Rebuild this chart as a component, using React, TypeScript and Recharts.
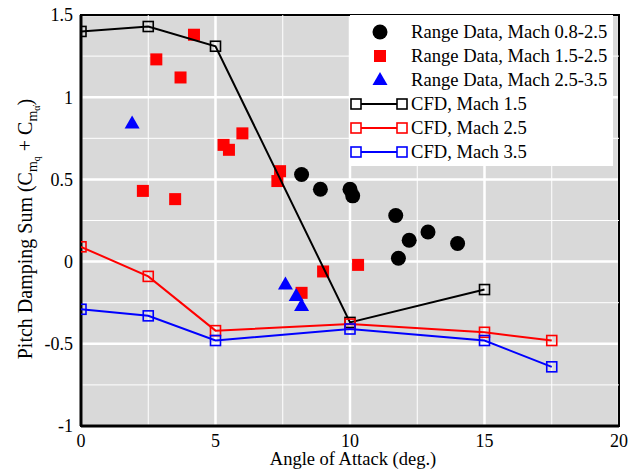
import { ComposedChart, Scatter, XAxis, YAxis, CartesianGrid, ReferenceLine, ReferenceArea, Legend } from 'recharts';

const FONT = '"Liberation Serif", "Times New Roman", serif';

// range data, Mach 0.8-2.5
const rangeLowAoa = [8.2, 8.9, 10.0, 10.1, 11.7, 11.8, 12.2, 12.9, 14.0];
const rangeLowPds = [0.53, 0.44, 0.44, 0.4, 0.28, 0.02, 0.13, 0.18, 0.11];
// range data, Mach 1.5-2.5
const rangeMidAoa = [4.2, 2.8, 3.7, 6.0, 5.3, 5.5, 7.4, 7.3, 2.3, 3.5, 8.2, 9.0, 10.3];
const rangeMidPds = [1.38, 1.23, 1.12, 0.78, 0.71, 0.68, 0.55, 0.49, 0.43, 0.38, -0.19, -0.06, -0.02];
// range data, Mach 2.5-3.5
const rangeHighAoa = [1.9, 7.6, 8.0, 8.2];
const rangeHighPds = [0.84, -0.14, -0.21, -0.27];

const cfd15Aoa = [0, 2.5, 5, 10, 15];
const cfd15Pds = [1.4, 1.43, 1.31, -0.37, -0.17];
const cfd25Aoa = [0, 2.5, 5, 10, 15, 17.5];
const cfd25Pds = [0.09, -0.09, -0.42, -0.38, -0.43, -0.48];
const cfd35Aoa = [0, 2.5, 5, 10, 15, 17.5];
const cfd35Pds = [-0.29, -0.33, -0.48, -0.41, -0.48, -0.64];

const xTicks = [0, 5, 10, 15, 20];
const yTicks = [-1, -0.5, 0, 0.5, 1, 1.5];
const xMinor = [2.5, 7.5, 12.5, 17.5];
const yMinor = [-0.75, -0.25, 0.25, 0.75, 1.25];

const pts = (xs: number[], ys: number[]) => xs.map((x, i) => ({ x, y: ys[i] }));

const Dot = (p: any) => <circle cx={p.cx} cy={p.cy} r={7.5} fill="#000" />;
const Sq = (p: any) => <rect x={p.cx - 6} y={p.cy - 6} width={12} height={12} fill="#f00" />;
const Tri = (p: any) => (
  <polygon points={`${p.cx},${p.cy - 8} ${p.cx - 7.5},${p.cy + 5} ${p.cx + 7.5},${p.cy + 5}`} fill="#00f" />
);
const hollow = (color: string) => (p: any) => (
  <rect x={p.cx - 5} y={p.cy - 5} width={10} height={10} fill="none" stroke={color} strokeWidth={1.6} />
);

const legendRows = [
  { kind: 'dot', color: '#000', label: 'Range Data, Mach 0.8-2.5' },
  { kind: 'sq', color: '#f00', label: 'Range Data, Mach 1.5-2.5' },
  { kind: 'tri', color: '#00f', label: 'Range Data, Mach 2.5-3.5' },
  { kind: 'line', color: '#000', label: 'CFD, Mach 1.5' },
  { kind: 'line', color: '#f00', label: 'CFD, Mach 2.5' },
  { kind: 'line', color: '#00f', label: 'CFD, Mach 3.5' },
];

function LegendBox() {
  return (
    <div style={{ background: '#fff', width: 263, height: 151, paddingTop: 5, boxSizing: 'border-box', fontFamily: FONT, fontSize: 18.6 }}>
      {legendRows.map((r, i) => (
        <div key={i} style={{ display: 'flex', alignItems: 'center', height: 24 }}>
          <svg width={61} height={24}>
            {r.kind === 'dot' && <circle cx={30} cy={12} r={7.5} fill={r.color} />}
            {r.kind === 'sq' && <rect x={24} y={6} width={12} height={12} fill={r.color} />}
            {r.kind === 'tri' && <polygon points="30,4 22.5,17 37.5,17" fill={r.color} />}
            {r.kind === 'line' && (
              <g>
                <line x1={5} y1={12} x2={53} y2={12} stroke={r.color} strokeWidth={2} />
                <rect x={1} y={7} width={10} height={10} fill="#fff" stroke={r.color} strokeWidth={1.6} />
                <rect x={47} y={7} width={10} height={10} fill="#fff" stroke={r.color} strokeWidth={1.6} />
              </g>
            )}
          </svg>
          <span style={{ whiteSpace: 'nowrap', lineHeight: '24px' }}>{r.label}</span>
        </div>
      ))}
    </div>
  );
}

export default function App() {
  const tickStyle = { fontFamily: FONT, fontSize: 18, fill: '#000' };
  return (
    <div style={{ position: 'absolute', left: 0, top: 0, width: 635, height: 474, background: '#fff' }}>
      <ComposedChart width={635} height={474} margin={{ top: 15, right: 16, bottom: 0, left: 0 }}>
        <CartesianGrid fill="#d9d9d9" stroke="#fff" strokeWidth={2.5} />
        {xMinor.map((v) => (
          <ReferenceLine key={'x' + v} x={v} stroke="#fff" strokeWidth={1} />
        ))}
        {yMinor.map((v) => (
          <ReferenceLine key={'y' + v} y={v} stroke="#fff" strokeWidth={1} />
        ))}
        <XAxis
          type="number"
          dataKey="x"
          domain={[0, 20]}
          ticks={xTicks}
          tickLine={false}
          tick={tickStyle}
          axisLine={{ stroke: '#000', strokeWidth: 3 }}
          height={48}
          allowDataOverflow
        />
        <YAxis
          type="number"
          dataKey="y"
          domain={[-1, 1.5]}
          ticks={yTicks}
          tickLine={false}
          tick={tickStyle}
          axisLine={{ stroke: '#000', strokeWidth: 3 }}
          width={81}
          allowDataOverflow
        />
        <ReferenceArea x1={0} x2={20} y1={-1} y2={1.5} fill="none" stroke="#000" strokeWidth={2} />
        <Scatter data={pts(rangeLowAoa, rangeLowPds)} shape={Dot} isAnimationActive={false} />
        <Scatter data={pts(rangeMidAoa, rangeMidPds)} shape={Sq} isAnimationActive={false} />
        <Scatter data={pts(rangeHighAoa, rangeHighPds)} shape={Tri} isAnimationActive={false} />
        <Scatter data={pts(cfd15Aoa, cfd15Pds)} line={{ stroke: '#000', strokeWidth: 2 }} shape={hollow('#000')} isAnimationActive={false} />
        <Scatter data={pts(cfd25Aoa, cfd25Pds)} line={{ stroke: '#f00', strokeWidth: 2 }} shape={hollow('#f00')} isAnimationActive={false} />
        <Scatter data={pts(cfd35Aoa, cfd35Pds)} line={{ stroke: '#00f', strokeWidth: 2 }} shape={hollow('#00f')} isAnimationActive={false} />
        <Legend
          layout="vertical"
          align="center"
          verticalAlign="middle"
          content={() => <LegendBox />}
          wrapperStyle={{ left: 350, top: 15, width: 263, height: 151 }}
        />
        <text x={353} y={465} textAnchor="middle" fontFamily={FONT} fontSize={18.5} fill="#000">
          Angle of Attack (deg.)
        </text>
        <text x={32} y={229} transform="rotate(-90 32 229)" textAnchor="middle" fontFamily={FONT} fontSize={20} fill="#000">
          Pitch Damping Sum (C
          <tspan fontSize={14} dy={5}>m</tspan>
          <tspan fontSize={10} dy={3}>q</tspan>
          <tspan fontSize={20} dy={-8}> + C</tspan>
          <tspan fontSize={14} dy={5}>m</tspan>
          <tspan fontSize={10} dy={3}>α̇</tspan>
          <tspan fontSize={20} dy={-8}>)</tspan>
        </text>
      </ComposedChart>
    </div>
  );
}
